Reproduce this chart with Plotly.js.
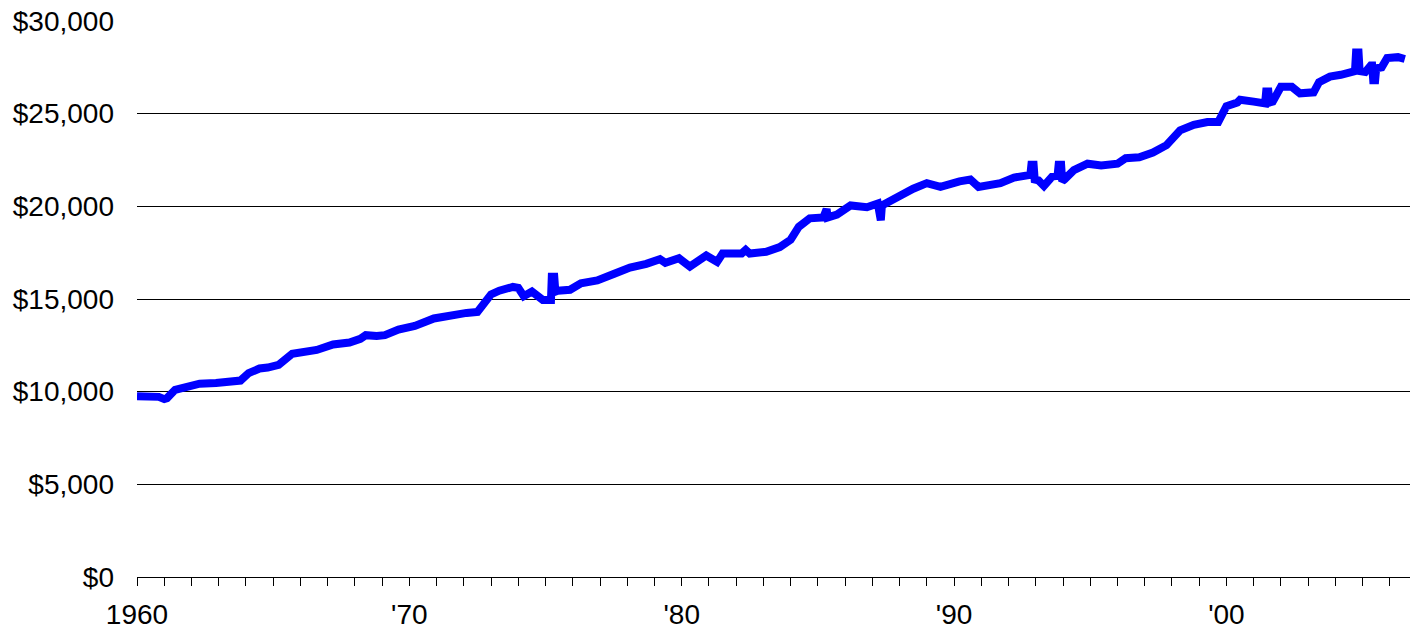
<!DOCTYPE html>
<html>
<head>
<meta charset="utf-8">
<script src="https://cdn.plot.ly/plotly-3.0.1.min.js"></script>
<style>html,body{margin:0;padding:0;background:#fff;}#chart{width:1412px;height:632px;}</style>
</head>
<body>
<div id="chart"></div>
<script>
// Time (decimal year) and value ($)
var years = [
  1960.0, 1960.4, 1960.8, 1961.0, 1961.1, 1961.4, 1961.9, 1962.3, 1962.9, 1963.4,
  1963.8, 1964.1, 1964.5, 1964.8, 1965.2, 1965.7, 1966.0, 1966.6, 1967.2, 1967.8,
  1968.2, 1968.4, 1968.8, 1969.1, 1969.6, 1970.2, 1970.9, 1971.5, 1972.1, 1972.5,
  1972.8, 1973.0, 1973.3, 1973.8, 1974.0, 1974.2, 1974.5, 1974.9, 1975.2, 1975.23,
  1975.32, 1975.36, 1975.45, 1975.9, 1976.3, 1976.9, 1977.5, 1978.1, 1978.7, 1979.2,
  1979.4, 1979.9, 1980.3, 1980.9, 1981.3, 1981.5, 1982.2, 1982.35, 1982.5, 1983.1,
  1983.6, 1984.0, 1984.3, 1984.7, 1985.2, 1985.25, 1985.32, 1985.36, 1985.7, 1986.2,
  1986.8, 1987.2, 1987.24, 1987.31, 1987.35, 1988.0, 1988.5, 1989.0, 1989.5, 1990.2,
  1990.6, 1990.9, 1991.7, 1992.2, 1992.7, 1992.8, 1992.84, 1992.92, 1992.96, 1993.1,
  1993.3, 1993.6, 1993.8, 1993.84, 1993.93, 1993.97, 1994.05, 1994.4, 1994.9, 1995.4,
  1996.0, 1996.3, 1996.8, 1997.3, 1997.8, 1998.3, 1998.8, 1999.3, 1999.7, 2000.0,
  2000.4, 2000.5, 2001.0, 2001.3, 2001.42, 2001.46, 2001.54, 2001.58, 2001.7, 2002.0,
  2002.4, 2002.7, 2003.2, 2003.4, 2003.8, 2004.2, 2004.6, 2004.72, 2004.76, 2004.85,
  2004.89, 2005.1, 2005.3, 2005.35, 2005.39, 2005.46, 2005.5, 2005.7, 2005.9, 2006.3,
  2006.55
];
var values = [
  9750, 9750, 9720, 9600, 9650, 10100, 10300, 10430, 10470, 10500,
  10600, 11000, 11250, 11300, 11450, 12050, 12100, 12250, 12550, 12650,
  12850, 13050, 13000, 13050, 13350, 13550, 13950, 14150, 14250, 14300,
  14900, 15250, 15450, 15650, 15600, 15150, 15400, 14950, 14950, 16200,
  16200, 15400, 15450, 15500, 15850, 16000, 16350, 16700, 16900, 17150,
  16950, 17200, 16750, 17350, 17000, 17450, 17450, 17650, 17450, 17550,
  17800, 18200, 18900, 19350, 19400, 19850, 19850, 19400, 19550, 20050,
  19950, 20150, 19250, 19250, 20050, 20600, 20950, 21250, 21050, 21350,
  21450, 21050, 21250, 21550, 21700, 21700, 22250, 22250, 21450, 21400,
  21100, 21600, 21650, 22250, 22250, 21350, 21450, 21950, 22300, 22200,
  22300, 22600, 22650, 22900, 23300, 24100, 24400, 24550, 24550, 25400,
  25600, 25750, 25650, 25500, 25550, 26200, 26200, 25600, 25650, 26450,
  26450, 26100, 26150, 26700, 27000, 27100, 27250, 27300, 28300, 28300,
  27300, 27250, 27600, 27600, 26800, 26800, 27450, 27500, 28000, 28050,
  27950
];

// Axis ticks and labels
var yTickVals = [0, 5000, 10000, 15000, 20000, 25000, 30000];
var yTickLabels = ['$0', '$5,000', '$10,000', '$15,000', '$20,000', '$25,000', '$30,000'];
var xTickYears = [];
for (var y = 1960; y <= 2006; y++) xTickYears.push(y);
var xLabelMap = {1960: '1960', 1970: "'70", 1980: "'80", 1990: "'90", 2000: "'00"};
var xTickLabels = xTickYears.map(function (y) { return xLabelMap[y] || ''; });

var font = {family: 'Liberation Sans, Arial, Helvetica, sans-serif', size: 28, color: '#000'};

var trace = {
  x: years,
  y: values,
  type: 'scatter',
  mode: 'lines',
  line: {color: '#0000FF', width: 8},
  hoverinfo: 'x+y'
};

var layout = {
  width: 1412,
  height: 632,
  margin: {l: 137, r: 2, t: 21, b: 55},
  paper_bgcolor: '#fff',
  plot_bgcolor: '#fff',
  showlegend: false,
  font: font,
  xaxis: {
    range: [1960, 2006.74],
    tickmode: 'array',
    tickvals: xTickYears,
    ticktext: xTickLabels,
    ticks: 'outside',
    ticklen: 8,
    tickwidth: 1,
    tickcolor: '#000',
    showgrid: false,
    zeroline: false,
    showline: true,
    linecolor: '#000',
    linewidth: 1,
    tickfont: font,
    ticklabelstandoff: 4,
    fixedrange: true
  },
  yaxis: {
    range: [0, 30000],
    tickmode: 'array',
    tickvals: yTickVals,
    ticktext: yTickLabels,
    ticks: '',
    showgrid: true,
    gridcolor: '#000',
    gridwidth: 1,
    zeroline: false,
    showline: false,
    tickfont: font,
    ticklabelstandoff: 22,
    fixedrange: true
  }
};

Plotly.newPlot('chart', [trace], layout, {displayModeBar: false, staticPlot: true});
</script>
</body>
</html>
